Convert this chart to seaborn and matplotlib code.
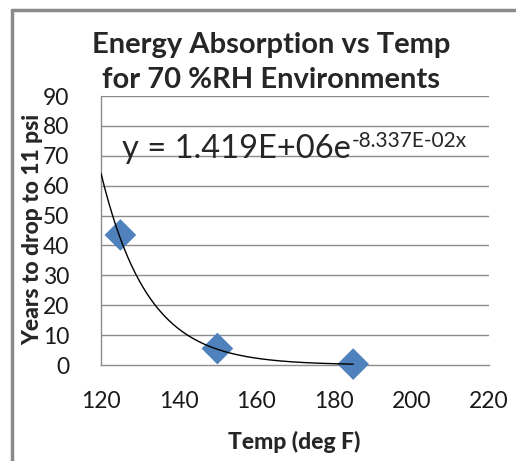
import numpy as np
import pandas as pd
import matplotlib
matplotlib.use("Agg")
import matplotlib.pyplot as plt
from matplotlib.lines import Line2D
import seaborn as sns

# Data
temps = [125, 150, 185]
years = [43.5, 5.5, 0.3]
# Trendline coefficients as shown in the equation label
coef_a = 1.419e6
coef_b = -8.337e-02
trend_start = 120
trend_end = 185

x_ticks = [120, 140, 160, 180, 200, 220]
y_ticks = [0, 10, 20, 30, 40, 50, 60, 70, 80, 90]

sns.set_style("white")
plt.rcParams['font.family'] = ['Lato', 'DejaVu Sans']

W, H = 516, 461
fig = plt.figure(figsize=(W / 100, H / 100), dpi=100)
ax = fig.add_axes([101 / W, 1 - 365 / H, (489 - 101) / W, (365 - 96) / H])

df = pd.DataFrame({"Temp": temps, "Years": years})
tx = np.linspace(trend_start, trend_end, 200)
trend = pd.DataFrame({"Temp": tx, "Years": coef_a * np.exp(coef_b * tx)})

grid_c = "#8c8c8c"
for yv in y_ticks[1:]:
    ax.axhline(yv, color=grid_c, lw=1.0, zorder=0)

sns.scatterplot(data=df, x="Temp", y="Years", marker="D", s=260,
                color="#4F81BD", edgecolor="none", ax=ax, zorder=3,
                clip_on=False)
sns.lineplot(data=trend, x="Temp", y="Years", color="black", lw=1.0,
             ax=ax, zorder=4)

ax.set_xlim(120, 220)
ax.set_ylim(0, 90)
ax.set_xticks(x_ticks)
ax.set_yticks(y_ticks)
ax.tick_params(axis="x", labelsize=16.5, length=0, pad=19, colors="#1a1a1a")
ax.tick_params(axis="y", labelsize=16.5, length=0, pad=23, colors="#1a1a1a")
for s in ["top", "right"]:
    ax.spines[s].set_visible(False)
for s in ["left", "bottom"]:
    ax.spines[s].set_color(grid_c)
    ax.spines[s].set_linewidth(1.0)

ax.set_xlabel("")
ax.set_ylabel("")
fig.text(294 / W, 1 - 442 / H, "Temp (deg F)", ha="center", va="center",
         fontsize=16.5, fontweight="black")
fig.text(33 / W, 1 - 229 / H, "Years to drop to 11 psi", ha="center",
         va="center", rotation=90, fontsize=16.5, fontweight="black")

fig.text(271 / W, 1 - 45 / H, "Energy Absorption vs Temp", ha="center",
         va="center", fontsize=21, fontweight="bold")
fig.text(271 / W, 1 - 80 / H, "for 70 %RH Environments", ha="center",
         va="center", fontsize=21, fontweight="bold")

main = fig.text(122 / W, 1 - 149 / H, "y = 1.419E+06e", fontsize=23.5,
                va="center", ha="left")
fig.canvas.draw()
bb = main.get_window_extent(fig.canvas.get_renderer())
fig.text(bb.x1 / W + 1 / W, 1 - 141 / H, "-8.337E-02x", fontsize=15,
         va="center", ha="left")

fig.add_artist(Line2D([12 / W, 12 / W], [0, 1 - 10 / H], color="#8a8a8a",
                      lw=2.5, transform=fig.transFigure))
fig.add_artist(Line2D([12 / W, 1], [1 - 10 / H, 1 - 10 / H], color="#8a8a8a",
                      lw=2.5, transform=fig.transFigure))

fig.savefig("out.png", dpi=100)
